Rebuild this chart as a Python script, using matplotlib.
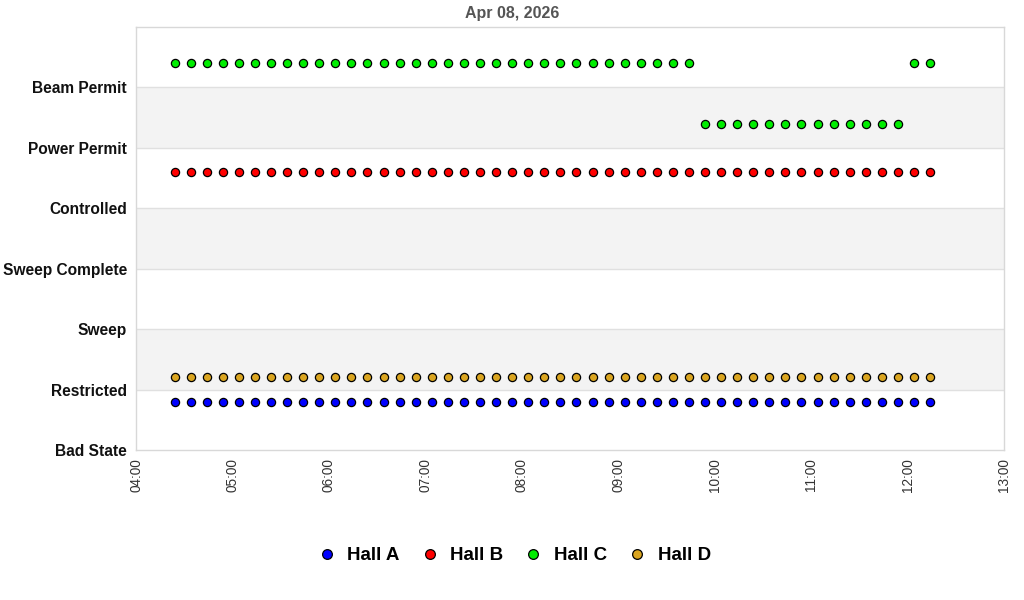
import matplotlib
matplotlib.use("Agg")
import matplotlib.pyplot as plt
import matplotlib.dates as mdates
from matplotlib.lines import Line2D
import pandas as pd

plt.rcParams['font.family'] = ['Liberation Sans', 'DejaVu Sans']

title = "Apr 08, 2026"
state_labels = ["Bad State", "Restricted", "Sweep", "Sweep Complete",
                "Controlled", "Power Permit", "Beam Permit"]

times = ["04:24", "04:34", "04:44", "04:54", "05:04", "05:14", "05:24", "05:34",
         "05:44", "05:54", "06:04", "06:14", "06:24", "06:34", "06:44", "06:54",
         "07:04", "07:14", "07:24", "07:34", "07:44", "07:54", "08:04", "08:14",
         "08:24", "08:34", "08:44", "08:54", "09:04", "09:14", "09:24", "09:34",
         "09:44", "09:54", "10:04", "10:14", "10:24", "10:34", "10:44", "10:54",
         "11:04", "11:14", "11:24", "11:34", "11:44", "11:54", "12:04", "12:14"]

R, PP, BP = "Restricted", "Power Permit", "Beam Permit"
hall_a = [R, R, R, R, R, R, R, R, R, R, R, R, R, R, R, R,
          R, R, R, R, R, R, R, R, R, R, R, R, R, R, R, R,
          R, R, R, R, R, R, R, R, R, R, R, R, R, R, R, R]
hall_b = [PP, PP, PP, PP, PP, PP, PP, PP, PP, PP, PP, PP, PP, PP, PP, PP,
          PP, PP, PP, PP, PP, PP, PP, PP, PP, PP, PP, PP, PP, PP, PP, PP,
          PP, PP, PP, PP, PP, PP, PP, PP, PP, PP, PP, PP, PP, PP, PP, PP]
hall_c = [BP, BP, BP, BP, BP, BP, BP, BP, BP, BP, BP, BP, BP, BP, BP, BP,
          BP, BP, BP, BP, BP, BP, BP, BP, BP, BP, BP, BP, BP, BP, BP, BP,
          BP, PP, PP, PP, PP, PP, PP, PP, PP, PP, PP, PP, PP, PP, BP, BP]
hall_d = [R, R, R, R, R, R, R, R, R, R, R, R, R, R, R, R,
          R, R, R, R, R, R, R, R, R, R, R, R, R, R, R, R,
          R, R, R, R, R, R, R, R, R, R, R, R, R, R, R, R]

series_names = ["Hall A", "Hall B", "Hall C", "Hall D"]
series_values = [hall_a, hall_b, hall_c, hall_d]
series_colors = ["#0000ff", "#ff0000", "#00ee00", "#daa520"]
series_offsets = [-0.2, -0.4, 0.4, 0.2]

x = pd.to_datetime(["2026-04-08 " + t for t in times])

fig = plt.figure(figsize=(10.24, 6.0), dpi=100)
ax = fig.add_axes([136/1024, 150/600, 868/1024, 423/600])

# alternating bands
for lo in range(1, 7, 2):
    ax.axhspan(lo, lo + 1, color="#f3f3f3", zorder=0, lw=0)
for yv in range(1, 7):
    ax.axhline(yv, color="#e0e0e0", lw=1, zorder=0.5)

for name, vals, col, off in zip(series_names, series_values, series_colors, series_offsets):
    yy = [state_labels.index(v) + off for v in vals]
    ax.plot(x, yy, linestyle="none", marker="o", markersize=5.9,
            markerfacecolor=col, markeredgecolor="black", markeredgewidth=0.9,
            zorder=3, label=name)

ax.set_ylim(0, 7)
ax.set_yticks(range(len(state_labels)))
ax.set_yticklabels(state_labels, fontsize=11.2, fontweight="bold", color="#111111")
ax.set_xlim(pd.Timestamp("2026-04-08 04:00"), pd.Timestamp("2026-04-08 13:00"))
ax.xaxis.set_major_locator(mdates.HourLocator())
ax.xaxis.set_major_formatter(mdates.DateFormatter("%H:%M"))
plt.setp(ax.get_xticklabels(), rotation=90, fontsize=9.8, color="#333333")
ax.tick_params(axis='y', length=0, pad=6.5)
ax.tick_params(axis='x', length=0, pad=6)
for s in ax.spines.values():
    s.set_color("#d8d8d8")
    s.set_linewidth(1)

fig.text(0.5, 1 - 13.5/600, title, ha="center", va="center",
         fontsize=11.5, fontweight="bold", color="#555555")

handles = [Line2D([], [], linestyle="none", marker="o", markersize=7.0,
                  markerfacecolor=c, markeredgecolor="black", markeredgewidth=0.9)
           for c in series_colors]
fig.legend(handles, series_names, loc="center", bbox_to_anchor=(513/1024, 1 - 555.5/600),
           ncol=4, frameon=False, prop={"weight": "bold", "size": 13.5},
           handletextpad=0.5, columnspacing=1.0, handlelength=1.2)

fig.savefig("out.png", dpi=100)
